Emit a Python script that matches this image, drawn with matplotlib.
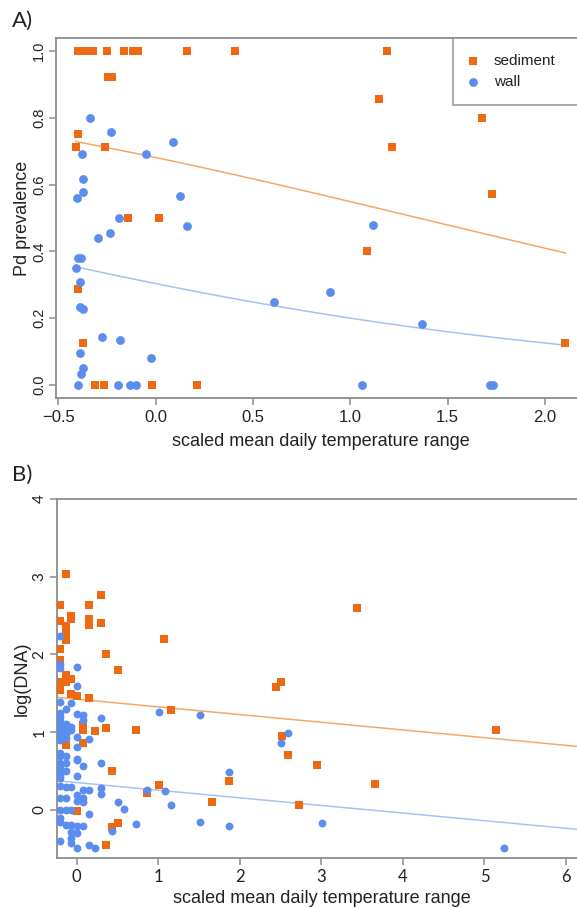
import numpy as np
import matplotlib
matplotlib.use("Agg")
import matplotlib.pyplot as plt

# ---------------- data ----------------
# Panel A: Pd prevalence vs scaled mean daily temperature range
sedA_x = [-0.40, -0.38, -0.36, -0.34, -0.32, -0.249, -0.161, -0.115, -0.089, 0.161, 0.409, 1.186,
          -0.245, -0.225, 1.148, 1.677, -0.40, -0.41, -0.259, 1.214, 1.727, -0.144, 0.019, 1.083,
          -0.40, -0.375, 2.104, -0.312, -0.267, -0.019, 0.212]
sedA_y = [1, 1, 1, 1, 1, 1, 1, 1, 1, 1, 1, 1,
          0.923, 0.923, 0.857, 0.8, 0.75, 0.714, 0.714, 0.714, 0.571, 0.5, 0.5, 0.4,
          0.286, 0.125, 0.125, 0, 0, 0, 0]
wallA_x = [-0.337, -0.23, 0.087, -0.377, -0.051, -0.375, -0.375, 0.126, -0.402, -0.188, 0.161,
           -0.235, -0.296, -0.398, -0.385, -0.408, -0.389, -0.389, -0.375, 0.606, -0.274, -0.183,
           -0.387, -0.024, -0.374, -0.385, -0.398, -0.194, -0.132, -0.10, 1.058, 1.717, 1.734,
           1.118, 0.895, 1.366]
wallA_y = [0.8, 0.758, 0.727, 0.692, 0.692, 0.618, 0.579, 0.565, 0.559, 0.5, 0.476,
           0.455, 0.44, 0.38, 0.38, 0.35, 0.308, 0.235, 0.228, 0.25, 0.143, 0.136,
           0.095, 0.08, 0.05, 0.034, 0, 0, 0, 0, 0, 0, 0,
           0.479, 0.279, 0.182]
# logistic fit coefficients (intercept, slope) and fitted range
fitA_sed = (0.7585, -0.5622)
fitA_wall = (-0.830, -0.555)
fitA_range = (-0.41, 2.105)

# Panel B: log(DNA) vs scaled mean daily temperature range
sedB_x = [-0.135, -0.21, 0.147, 0.294, -0.21, -0.074, -0.074, -0.135, -0.135, -0.135, 0.147, 0.147,
          0.294, 1.075, -0.21, 0.356, -0.21, 0.507, -0.135, -0.21, -0.135, -0.074, -0.21, -0.074,
          0.008, 0.147, 1.153, 0.074, 0.074, 0.22, 0.364, 0.724, -0.135, 0.074, 0.43, 1.01,
          1.87, 0.866, 1.656, 0.008, 0.507, 0.43, 0.364, 2.44, 2.51, 2.515, 2.585, 3.436,
          2.945, 3.664, 2.72, 5.145]
sedB_y = [3.03, 2.63, 2.63, 2.76, 2.43, 2.5, 2.45, 2.36, 2.29, 2.18, 2.45, 2.38,
          2.41, 2.2, 2.07, 2.0, 1.93, 1.80, 1.74, 1.65, 1.65, 1.69, 1.54, 1.49,
          1.46, 1.44, 1.29, 1.09, 1.03, 1.02, 1.05, 1.03, 0.84, 0.86, 0.50, 0.326,
          0.375, 0.22, 0.103, -0.01, -0.17, -0.22, -0.45, 1.58, 1.64, 0.95, 0.71, 2.60,
          0.575, 0.335, 0.064, 1.03]
wallB_x = ([-0.21] * 25 + [-0.135] * 12 + [-0.074] * 9 + [0.008] * 13 + [0.074] * 7 +
           [0.147] * 4 + [0.22] + [0.294] * 4 +
           [0.43, 0.507, 0.58, 0.724, 0.866, 1.01, 1.08, 1.153, 1.509, 1.509, 1.87, 1.87,
            2.51, 2.585, 3.014, 5.243])
wallB_y = ([2.24, 1.88, 1.82, 1.39, 1.25, 1.2, 1.15, 1.1, 1.05, 1.0, 0.95, 0.9, 0.73, 0.69, 0.6,
            0.55, 0.5, 0.45, 0.41, 0.31, 0.15, 0.0, -0.11, -0.15, -0.4] +
           [1.3, 1.1, 1.03, 0.98, 0.93, 0.7, 0.6, 0.5, 0.3, 0.15, 0.0, -0.19] +
           [1.38, 1.07, 1.03, 0.3, 0.0, -0.2, -0.28, -0.36, -0.43] +
           [1.84, 1.59, 1.24, 0.94, 0.81, 0.66, 0.64, 0.44, 0.19, 0.12, -0.21, -0.3, -0.49] +
           [1.22, 1.16, 0.57, 0.26, 0.15, 0.1, -0.21] +
           [0.91, 0.26, -0.05, -0.45] + [-0.49] + [1.18, 0.61, 0.28, 0.21] +
           [-0.27, 0.10, 0.01, -0.18, 0.26, 1.26, 0.25, 0.064, 1.22, -0.155, 0.49, -0.206,
            0.86, 0.995, -0.17, -0.485])
# linear fits (intercept, slope)
fitB_sed = (1.425, -0.099)
fitB_wall = (0.352, -0.098)

xticksA = [-0.5, 0.0, 0.5, 1.0, 1.5, 2.0]
yticksA = [0.0, 0.2, 0.4, 0.6, 0.8, 1.0]
xticksB = [0, 1, 2, 3, 4, 5, 6]
yticksB = [0, 1, 2, 3, 4]

# ---------------- style ----------------
ORANGE = "#EE6A12"
BLUE = "#5B8DEE"
ORANGE_LINE = "#F6A766"
BLUE_LINE = "#A8C0F2"
FRAME = "#8C8C8C"
TXT = "#222222"
FONT = ["Liberation Sans", "DejaVu Sans"]
FONT_B = ["Lato", "DejaVu Sans"]

W, H = 577, 908
fig = plt.figure(figsize=(W / 100, H / 100), dpi=100)


def rect(l, r, t, b):
    return [l / W, 1 - b / H, (r - l) / W, (b - t) / H]


def style(ax, tickfont):
    for s in ax.spines.values():
        s.set_color(FRAME)
        s.set_linewidth(1.3)
    ax.tick_params(direction="out", length=5, width=1.1, color=FRAME)
    ax.tick_params(axis="x", pad=3)
    ax.tick_params(axis="y", pad=2.5)
    for lab in ax.get_xticklabels() + ax.get_yticklabels():
        lab.set_family(tickfont)
        lab.set_color(TXT)


# ---------- Panel A ----------
A_l, A_r = 56.4, 585.0
axA = fig.add_axes(rect(A_l, A_r, 37.6, 398.4))
axA.set_xlim(-0.51, 2.205)
axA.set_ylim(-0.04, 1.04)
axA.scatter(sedA_x, sedA_y, marker="s", s=34, color=ORANGE, linewidths=0, label="sediment", zorder=3)
axA.scatter(wallA_x, wallA_y, marker="o", s=40, color=BLUE, linewidths=0, label="wall", zorder=3)
xx = np.linspace(fitA_range[0], fitA_range[1], 200)
for (a, b), c in ((fitA_sed, ORANGE_LINE), (fitA_wall, BLUE_LINE)):
    axA.plot(xx, 1 / (1 + np.exp(-(a + b * xx))), color=c, lw=1.1, zorder=2)
axA.set_xticks(xticksA)
axA.set_xticklabels([f"{v:.1f}".replace("-", "\u2212") for v in xticksA], fontsize=12)
axA.set_yticks(yticksA)
axA.set_yticklabels([f"{v:.1f}" for v in yticksA], fontsize=10.5, rotation=90, va="center")
axA.set_xlabel("scaled mean daily temperature range", fontsize=13, family=FONT, color=TXT, labelpad=6)
axA.set_ylabel("Pd prevalence", fontsize=13, family=FONT, color=TXT)
axA.yaxis.set_label_coords((31.0 - A_l) / (A_r - A_l), 0.5)
style(axA, FONT)
x0 = (452.7 - A_l) / (A_r - A_l)
leg = axA.legend(loc="upper right", bbox_to_anchor=(x0, 0.0, 1.0 - x0, 1.0), mode="expand",
                 borderaxespad=0, frameon=True, fancybox=False, handlelength=0.5,
                 handletextpad=1.15, borderpad=1.05, labelspacing=0.45,
                 prop={"family": FONT, "size": 11})
leg.get_frame().set_edgecolor(FRAME)
leg.get_frame().set_linewidth(1.3)
for t in leg.get_texts():
    t.set_color(TXT)
fig.text(12 / W, 1 - 21 / H, "A)", fontsize=16, family=FONT_B, color=TXT, va="center")

# ---------- Panel B ----------
B_l, B_r = 56.7, 586.4
axB = fig.add_axes(rect(B_l, B_r, 499.0, 858.3))
axB.set_xlim(-0.245, 6.25)
axB.set_ylim(-0.622, 4.0)
axB.scatter(sedB_x, sedB_y, marker="s", s=28, color=ORANGE, linewidths=0, zorder=3)
axB.scatter(wallB_x, wallB_y, marker="o", s=32, color=BLUE, linewidths=0, zorder=3)
xb = np.linspace(-0.245, 6.25, 50)
for (a, b), c in ((fitB_sed, ORANGE_LINE), (fitB_wall, BLUE_LINE)):
    axB.plot(xb, a + b * xb, color=c, lw=1.1, zorder=2)
axB.set_xticks(xticksB)
axB.set_xticklabels([str(v) for v in xticksB], fontsize=12)
axB.set_yticks(yticksB)
axB.set_yticklabels([str(v) for v in yticksB], fontsize=11, rotation=90, va="center")
axB.set_xlabel("scaled mean daily temperature range", fontsize=13, family=FONT, color=TXT, labelpad=3)
axB.set_ylabel("log(DNA)", fontsize=13, family=FONT, color=TXT)
axB.yaxis.set_label_coords((31.0 - B_l) / (B_r - B_l), 0.5)
style(axB, FONT_B)
fig.text(12 / W, 1 - 475 / H, "B)", fontsize=16, family=FONT_B, color=TXT, va="center")

fig.savefig("out.png", dpi=100)
